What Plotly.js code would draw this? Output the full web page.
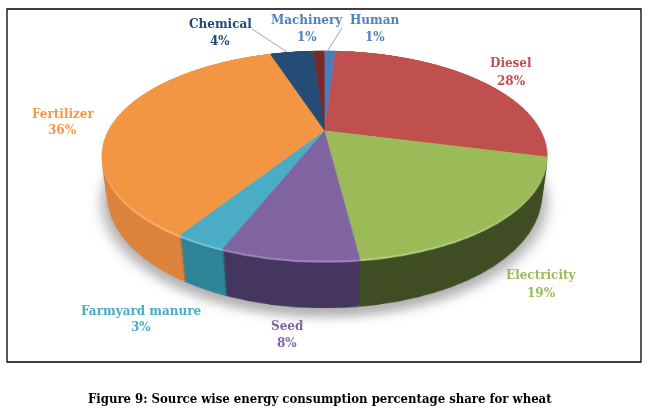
<!DOCTYPE html>
<html><head><meta charset="utf-8">
<script src="https://cdn.plot.ly/plotly-3.0.1.min.js"></script>
<style>
html,body{margin:0;padding:0;background:#fff;}
#wrap{position:relative;width:650px;height:409px;overflow:hidden;background:#fff;}
#scene{position:absolute;left:0;top:0;width:650px;height:409px;}
#disc{position:absolute;transform-style:preserve-3d;}
.layer{position:absolute;left:0;top:0;}
#over{position:absolute;left:0;top:0;width:650px;height:409px;}
</style></head><body>
<div id="wrap"><div id="scene"><div id="disc"></div></div><div id="over"></div></div>
<script>
// ---- data ----
const categories = ['Human','Diesel','Electricity','Seed','Farmyard manure','Fertilizer','Chemical','Machinery'];
const shares = [1, 28, 19, 8, 3, 36, 4, 1];
const captionText = 'Figure 9: Source wise energy consumption percentage share for wheat';

// ---- styles ----
const topColors  = ['#4A7EBB','#C0504D','#9BBB59','#8064A2','#4BACC6','#F39643','#254B77','#772A28'];
const sideColors = ['#2F5A8C','#8C3634','#3F4D23','#45365F','#2E8397','#DC833C','#173559','#4E1A19'];
const rimColors  = ['#6F98CC','#D27572','#B2CC7E','#9A83B8','#79C3D6','#F9B27A','#3E6595','#93403D'];
const labelColors= ['#4F81BD','#C0504D','#9BBB59','#8064A2','#4BACC6','#F79646','#1F497D','#4F81BD'];
const labelPos = {
  'Human':[375,20,37], 'Diesel':[511,63,81], 'Electricity':[541,275,293], 'Seed':[287,326,343],
  'Farmyard manure':[141,311,327], 'Fertilizer':[63,114,130], 'Chemical':[220,24,41], 'Machinery':[307,20,37]
};

// ---- 3-D geometry (perspective view of a flat disc) ----
const R = 216.5;          // disc radius
const CX = 324, CY = 130; // projected centre of the disc
const TILT = 62.8;        // degrees
const PERSP = 808;        // px
const THICK = 46;         // disc thickness
const STEP = 2;

const scene = document.getElementById('scene');
scene.style.perspective = PERSP + 'px';
scene.style.perspectiveOrigin = CX + 'px ' + CY + 'px';
const disc = document.getElementById('disc');
const S = 2 * R;
disc.style.width = S + 'px'; disc.style.height = S + 'px';
disc.style.left = (CX - R) + 'px'; disc.style.top = (CY - R) + 'px';
disc.style.transformOrigin = R + 'px ' + R + 'px';
disc.style.transform = 'rotateX(' + TILT + 'deg)';

const cfg = {staticPlot:true, displayModeBar:false};
function addLayer(depth, colors, opts) {
  opts = opts || {};
  const grow = opts.grow || 0;
  const div = document.createElement('div');
  div.className = 'layer';
  div.style.left = (-grow) + 'px'; div.style.top = (-grow) + 'px';
  div.style.width = (S + 2*grow) + 'px'; div.style.height = (S + 2*grow) + 'px';
  div.style.transform = 'translateZ(' + (-depth) + 'px)';
  if (opts.filter) div.style.filter = opts.filter;
  if (opts.opacity) div.style.opacity = opts.opacity;
  disc.appendChild(div);
  const trace = opts.single
    ? {type:'pie', labels:['shadow'], values:[1], marker:{colors:colors, line:{width:0}}}
    : {type:'pie', labels:categories, values:shares, sort:false, direction:'clockwise', rotation:0,
       marker:{colors:colors, line:{width:0}}};
  Object.assign(trace, {textinfo:'none', hoverinfo:'skip', showlegend:false, domain:{x:[0,1], y:[0,1]}});
  Plotly.newPlot(div, [trace], {width:S + 2*grow, height:S + 2*grow, margin:{l:0,r:0,t:0,b:0},
    paper_bgcolor:'rgba(0,0,0,0)', plot_bgcolor:'rgba(0,0,0,0)', showlegend:false}, cfg);
}
// soft shadow under the disc
addLayer(THICK + 4, ['#000000'], {single:true, grow:6, filter:'blur(6px)', opacity:0.3});
// extruded side
for (let d = THICK; d > 0.5; d -= STEP) addLayer(d, d <= 3 ? rimColors : sideColors);
// top face
addLayer(0, topColors);

// ---- overlay: labels, leader lines, frame, caption ----
const px = x => x / 650, py = y => 1 - y / 409;
const ann = [];
categories.forEach((c, i) => {
  const p = labelPos[c];
  const f = {family:'DejaVu Serif', size:12, color:labelColors[i]};
  ann.push({xref:'paper', yref:'paper', x:px(p[0]), y:py(p[1]), text:'<b>' + c + '</b>',
    showarrow:false, xanchor:'center', yanchor:'middle', font:f});
  ann.push({xref:'paper', yref:'paper', x:px(p[0]), y:py(p[2]), text:'<b>' + shares[i] + '%</b>',
    showarrow:false, xanchor:'center', yanchor:'middle', font:f});
});
ann.push({xref:'paper', yref:'paper', x:px(320), y:py(398), text:'<b>' + captionText + '</b>',
  showarrow:false, xanchor:'center', yanchor:'middle',
  font:{family:'DejaVu Serif Condensed, DejaVu Serif', size:13, color:'#000'}});

const line = (x0,y0,x1,y1) => ({type:'line', xref:'paper', yref:'paper', x0:px(x0), y0:py(y0), x1:px(x1), y1:py(y1),
  line:{color:'#A6A6A6', width:1}});
const shapes = [
  {type:'rect', xref:'paper', yref:'paper', x0:px(7), y0:py(9), x1:px(641), y1:py(362), line:{color:'#000', width:1.3}},
  line(252,29,287,52),
  line(342,28,328,50)
];
Plotly.newPlot('over', [], {width:650, height:409, margin:{l:0,r:0,t:0,b:0},
  paper_bgcolor:'rgba(0,0,0,0)', plot_bgcolor:'rgba(0,0,0,0)',
  xaxis:{visible:false}, yaxis:{visible:false}, annotations:ann, shapes:shapes, showlegend:false}, cfg);
</script>
</body></html>
